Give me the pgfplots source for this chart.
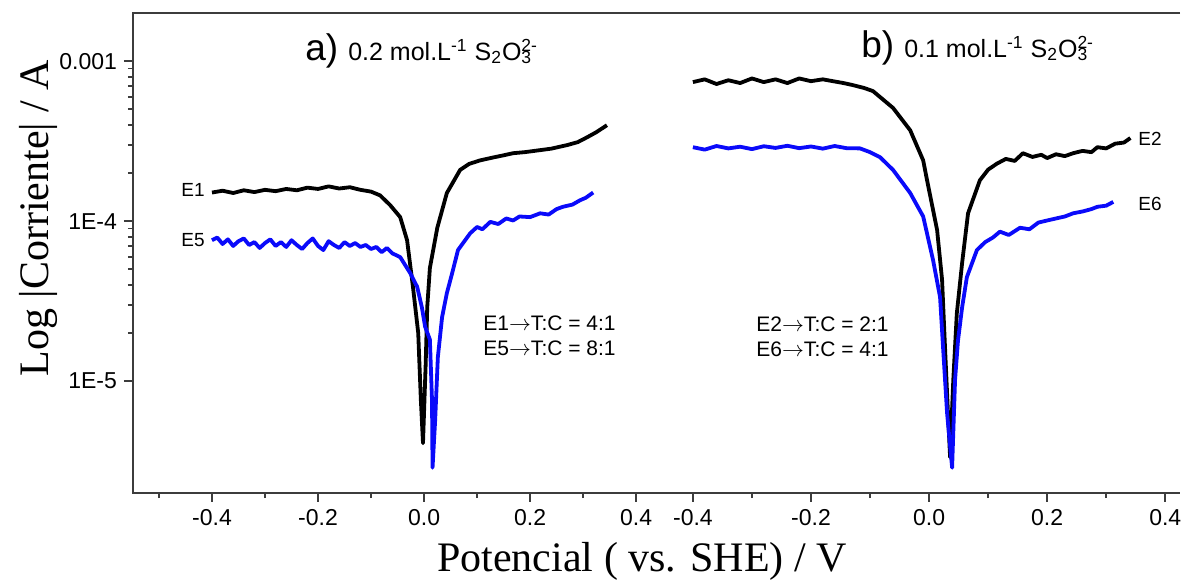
\documentclass[border=0pt]{standalone}
\usepackage{fontspec}
\setmainfont{Liberation Sans}
\newfontfamily\timesfont{Liberation Serif}
\usepackage{pgfplots}
\pgfplotsset{compat=1.18}

\definecolor{framegray}{RGB}{60,60,60}
\definecolor{curveblue}{RGB}{10,10,250}

\tikzset{
  blk/.style={black, line width=1.9pt, line join=round},
  blu/.style={curveblue, line width=1.9pt, line join=round},
}

\begin{document}
\begin{tikzpicture}
\path[use as bounding box] (-66.5pt,-46.5pt) rectangle (524.5pt,246.5pt);

% panel a)
\begin{axis}[
  scale only axis,
  at={(0,0)}, width=277pt, height=240pt,
  ymode=log, ymin=2e-6, ymax=2e-3,
  xmin=-0.549, xmax=0.496,
  axis line style={draw=none},
  tick align=outside, tick pos=left,
  major tick length=4.5pt, minor tick length=2.5pt,
  every tick/.style={framegray, line width=0.9pt},
  tick label style={font=\fontsize{11.5}{13}\selectfont},
  xtick={-0.4,-0.2,0,0.2,0.4},
  xticklabels={-0.4,-0.2,0.0,0.2,0.4},
  minor xtick={-0.5,-0.3,-0.1,0.1,0.3},
  ytick={1e-5,1e-4,1e-3},
  yticklabels={1E-5,1E-4,0.001},
  clip=false,
]
% E1
\addplot[blk] coordinates {
(-0.40,1.51e-4)(-0.38,1.55e-4)(-0.36,1.50e-4)(-0.34,1.56e-4)(-0.32,1.52e-4)
(-0.30,1.57e-4)(-0.28,1.54e-4)(-0.26,1.59e-4)(-0.24,1.56e-4)(-0.22,1.62e-4)
(-0.20,1.59e-4)(-0.18,1.65e-4)(-0.16,1.60e-4)(-0.14,1.63e-4)(-0.12,1.57e-4)
(-0.10,1.53e-4)(-0.083,1.45e-4)
(-0.064,1.26e-4)(-0.045,1.06e-4)(-0.032,7.6e-5)(-0.021,3.9e-5)(-0.011,2.0e-5)
(-0.006,7.6e-6)(-0.002,4.1e-6)(0.003,1.26e-5)(0.006,2.9e-5)(0.011,5.1e-5)
(0.025,9.1e-5)(0.043,1.50e-4)(0.068,2.09e-4)(0.085,2.28e-4)(0.106,2.40e-4)
(0.13,2.50e-4)(0.15,2.58e-4)(0.168,2.66e-4)(0.19,2.70e-4)(0.219,2.78e-4)
(0.24,2.84e-4)(0.27,2.99e-4)(0.29,3.12e-4)(0.308,3.35e-4)(0.325,3.6e-4)(0.345,3.98e-4)};
% E5
\addplot[blu] coordinates {
(-0.40,7.6e-5)(-0.39,7.9e-5)(-0.38,7.2e-5)(-0.37,7.7e-5)(-0.36,7.0e-5)
(-0.35,7.5e-5)(-0.34,7.8e-5)(-0.33,7.1e-5)(-0.32,7.4e-5)(-0.31,6.8e-5)
(-0.30,7.3e-5)(-0.29,7.7e-5)(-0.28,7.0e-5)(-0.27,7.4e-5)(-0.26,6.9e-5)
(-0.25,7.6e-5)(-0.24,7.1e-5)(-0.23,6.7e-5)(-0.22,7.3e-5)(-0.21,7.8e-5)
(-0.20,7.0e-5)(-0.19,6.6e-5)(-0.18,7.5e-5)(-0.17,7.1e-5)(-0.16,6.8e-5)
(-0.15,7.4e-5)(-0.14,7.0e-5)(-0.13,7.3e-5)(-0.12,6.9e-5)(-0.11,7.1e-5)
(-0.10,6.7e-5)(-0.09,6.9e-5)(-0.08,6.4e-5)(-0.07,6.8e-5)(-0.06,6.3e-5)
(-0.045,5.96e-5)(-0.026,4.73e-5)(-0.013,3.89e-5)(-0.004,2.88e-5)
(0.002,2.19e-5)(0.011,1.82e-5)(0.015,7.6e-6)(0.016,2.88e-6)(0.021,5.75e-6)
(0.026,1.41e-5)(0.034,2.51e-5)(0.043,3.55e-5)(0.053,4.73e-5)(0.064,6.6e-5)
(0.087,8.4e-5)(0.10,9.2e-5)(0.11,8.9e-5)(0.125,9.9e-5)(0.14,9.6e-5)
(0.155,1.04e-4)(0.168,1.01e-4)(0.18,1.07e-4)(0.2,1.06e-4)(0.219,1.12e-4)
(0.235,1.10e-4)(0.25,1.19e-4)(0.262,1.23e-4)(0.28,1.27e-4)(0.294,1.35e-4)
(0.305,1.40e-4)(0.319,1.51e-4)};
\end{axis}

% panel b)
\begin{axis}[
  scale only axis,
  at={(277pt,0)}, width=246.5pt, height=240pt,
  ymode=log, ymin=2e-6, ymax=2e-3,
  xmin=-0.410, xmax=0.425,
  axis line style={draw=none},
  tick align=outside, tick pos=left,
  major tick length=4.5pt, minor tick length=2.5pt,
  every tick/.style={framegray, line width=0.9pt},
  tick label style={font=\fontsize{11.5}{13}\selectfont},
  xtick={-0.4,-0.2,0,0.2,0.4},
  xticklabels={-0.4,-0.2,0.0,0.2,0.4},
  minor xtick={-0.3,-0.1,0.1,0.3},
  ymajorticks=false, yminorticks=false,
  clip=false,
]
% E2
\addplot[blk] coordinates {
(-0.40,7.4e-4)(-0.38,7.7e-4)(-0.36,7.2e-4)(-0.34,7.6e-4)(-0.32,7.3e-4)
(-0.30,7.8e-4)(-0.28,7.4e-4)(-0.26,7.7e-4)(-0.24,7.3e-4)(-0.22,7.8e-4)
(-0.20,7.5e-4)(-0.18,7.7e-4)(-0.163,7.5e-4)(-0.145,7.3e-4)(-0.13,7.1e-4)
(-0.11,6.8e-4)(-0.095,6.5e-4)(-0.061,5.1e-4)(-0.032,3.7e-4)
(-0.01,2.4e-4)(-0.0034,1.8e-4)(0.0136,8.8e-5)(0.022,4.3e-5)(0.027,1.62e-5)
(0.032,6.3e-6)(0.0356,3.35e-6)(0.041,1.02e-5)(0.047,2.66e-5)(0.056,5.5e-5)
(0.066,1.12e-4)(0.086,1.80e-4)(0.10,2.10e-4)(0.115,2.29e-4)(0.13,2.45e-4)
(0.145,2.38e-4)(0.159,2.66e-4)(0.175,2.52e-4)(0.19,2.60e-4)(0.2,2.48e-4)
(0.215,2.62e-4)(0.23,2.55e-4)(0.244,2.66e-4)(0.26,2.75e-4)(0.275,2.70e-4)
(0.285,2.9e-4)(0.30,2.85e-4)(0.315,3.05e-4)(0.33,3.1e-4)(0.341,3.31e-4)};
% E6
\addplot[blu] coordinates {
(-0.40,2.9e-4)(-0.38,2.8e-4)(-0.36,2.95e-4)(-0.34,2.85e-4)(-0.32,2.92e-4)
(-0.30,2.82e-4)(-0.28,2.94e-4)(-0.26,2.87e-4)(-0.24,2.96e-4)(-0.22,2.86e-4)
(-0.20,2.93e-4)(-0.18,2.84e-4)(-0.16,2.95e-4)(-0.14,2.86e-4)(-0.117,2.85e-4)
(-0.10,2.7e-4)(-0.083,2.51e-4)(-0.061,2.09e-4)(-0.032,1.50e-4)
(-0.01,1.07e-4)(0.0068,5.7e-5)(0.0186,3.35e-5)(0.0237,1.62e-5)(0.0305,6.3e-6)
(0.039,2.88e-6)(0.044,1.02e-5)(0.049,1.80e-5)(0.056,2.9e-5)(0.064,4.47e-5)
(0.081,6.6e-5)(0.095,7.4e-5)(0.108,7.9e-5)(0.12,8.6e-5)(0.135,8.2e-5)
(0.154,9.1e-5)(0.17,8.9e-5)(0.185,9.8e-5)(0.2,1.01e-4)(0.215,1.04e-4)
(0.23,1.07e-4)(0.244,1.12e-4)(0.26,1.15e-4)(0.275,1.19e-4)(0.285,1.23e-4)
(0.30,1.25e-4)(0.312,1.32e-4)};
\end{axis}

% frame
\draw[framegray, line width=1pt] (523.5pt,240pt) -- (0,240pt) -- (0,0) -- (523.5pt,0);

% texts
\node[anchor=base west, inner sep=0pt] at (86pt,216.5pt)
  {{\fontsize{18.5}{20}\selectfont a)}\hspace{5pt}\fontsize{12.5}{14}\selectfont 0.2 mol.L\textsuperscript{-1} S\textsubscript{2}O\rlap{\textsuperscript{2-}}\textsubscript{3}};
\node[anchor=base west, inner sep=0pt] at (364pt,218pt)
  {{\fontsize{18.5}{20}\selectfont b)}\hspace{5pt}\fontsize{12.5}{14}\selectfont 0.1 mol.L\textsuperscript{-1} S\textsubscript{2}O\rlap{\textsuperscript{2-}}\textsubscript{3}};

\begin{scope}[every node/.style={inner sep=0pt, font=\fontsize{9.5}{11}\selectfont}]
\node[anchor=east] at (36pt,151.5pt) {E1};
\node[anchor=east] at (36pt,126.5pt) {E5};
\node[anchor=west] at (502.5pt,177pt) {E2};
\node[anchor=west] at (502.5pt,144.5pt) {E6};
\end{scope}

\begin{scope}[every node/.style={inner sep=0pt, anchor=west, font=\fontsize{10.5}{12}\selectfont}]
\node at (175pt,85pt) {E1$\rightarrow$T:C = 4:1};
\node at (175pt,72.5pt) {E5$\rightarrow$T:C = 8:1};
\node at (311.5pt,84.5pt) {E2$\rightarrow$T:C = 2:1};
\node at (311.5pt,72pt) {E6$\rightarrow$T:C = 4:1};
\end{scope}

\node[font=\timesfont\fontsize{21}{25}\selectfont] at (254.5pt,-34pt) {Potencial ( vs. SHE) / V};
\node[rotate=90, font=\timesfont\fontsize{21}{25}\selectfont] at (-47.5pt,137.5pt) {Log |Corriente| / A};
\end{tikzpicture}
\end{document}
